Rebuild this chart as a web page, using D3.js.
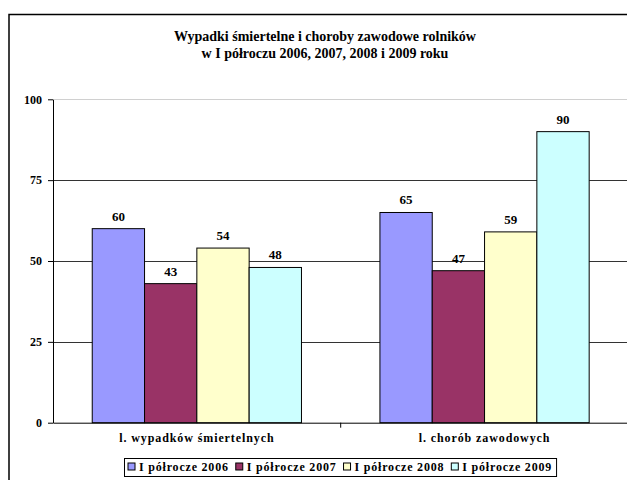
<!doctype html>
<html>
<head>
<meta charset="utf-8">
<style>
  body { margin: 0; background: #fff; }
  svg { display: block; font-family: "Liberation Serif", "Times New Roman", serif; font-weight: bold; }
</style>
<script src="https://d3js.org/d3.v7.min.js"></script>
</head>
<body>
<svg width="627" height="480"></svg>
<script>
// chart data
var categories = ["l. wypadków śmiertelnych", "l. chorób zawodowych"];
var seriesNames = ["I półrocze 2006", "I półrocze 2007", "I półrocze 2008", "I półrocze 2009"];
var values2006 = [60, 65];
var values2007 = [43, 47];
var values2008 = [54, 59];
var values2009 = [48, 90];
var yTicks = [0, 25, 50, 75, 100];
var colors = ["#9999ff", "#993366", "#ffffcc", "#ccffff"];

var allValues = [values2006, values2007, values2008, values2009];

var svg = d3.select("svg");

// outer chart frame (runs off the right and bottom edge)
svg.append("rect")
    .attr("x", 9).attr("y", 14.5)
    .attr("width", 700).attr("height", 600)
    .attr("fill", "none").attr("stroke", "#000").attr("stroke-width", 1.5);

// title
var title = svg.append("text")
    .attr("text-anchor", "middle")
    .attr("font-size", 14);
title.append("tspan").attr("x", 325).attr("y", 41).text("Wypadki śmiertelne i choroby zawodowe rolników");
title.append("tspan").attr("x", 325).attr("y", 58).text("w I półroczu 2006, 2007, 2008 i 2009 roku");

var plotLeft = 53, plotRight = 628.4, plotTop = 99.3, plotBottom = 422.7;

var x0 = d3.scaleBand().domain(categories).range([plotLeft, plotRight]).padding(0);
var x1 = d3.scaleBand().domain(seriesNames).range([0, x0.bandwidth()])
    .paddingInner(0).paddingOuter(0.75);
var y = d3.scaleLinear().domain([0, 100]).range([plotBottom, plotTop]);

// gridlines
svg.append("g").selectAll("line")
    .data(yTicks.filter(function(d) { return d > 0; }))
    .enter().append("line")
    .attr("x1", plotLeft).attr("x2", plotRight)
    .attr("y1", function(d) { return Math.round(y(d)) + 0.5; })
    .attr("y2", function(d) { return Math.round(y(d)) + 0.5; })
    .attr("stroke", function(d) { return d === 100 ? "#d0d0d0" : "#333"; })
    .attr("stroke-width", 1);

// bars
var rows = [];
categories.forEach(function(c, i) {
    seriesNames.forEach(function(s, j) {
        rows.push({ cat: c, ser: s, value: allValues[j][i], color: colors[j] });
    });
});

var bars = svg.append("g");
bars.selectAll("rect")
    .data(rows)
    .enter().append("rect")
    .attr("x", function(d) { return x0(d.cat) + x1(d.ser); })
    .attr("y", function(d) { return y(d.value); })
    .attr("width", x1.bandwidth())
    .attr("height", function(d) { return plotBottom - y(d.value); })
    .attr("fill", function(d) { return d.color; })
    .attr("stroke", "#000").attr("stroke-width", 1);

bars.selectAll("text")
    .data(rows)
    .enter().append("text")
    .attr("x", function(d) { return x0(d.cat) + x1(d.ser) + x1.bandwidth() / 2; })
    .attr("y", function(d) { return y(d.value) - 8; })
    .attr("text-anchor", "middle")
    .attr("font-size", 13)
    .text(function(d) { return d.value; });

// y axis
var yAxis = svg.append("g")
    .attr("transform", "translate(" + plotLeft + ",0)")
    .call(d3.axisLeft(y).tickValues(yTicks).tickSize(5).tickPadding(6).tickSizeOuter(0))
    .attr("font-family", null).attr("font-size", 12);
yAxis.select(".domain").attr("stroke", "#000");
yAxis.selectAll("line").attr("stroke", "#000");
yAxis.selectAll("text").attr("fill", "#000");

// x axis
var xAxis = svg.append("g")
    .attr("transform", "translate(0," + plotBottom + ")")
    .call(d3.axisBottom(x0).tickSize(0).tickPadding(11).tickSizeOuter(0))
    .attr("font-family", null).attr("font-size", 12);
xAxis.select(".domain").attr("stroke", "#000");
xAxis.selectAll("text").attr("fill", "#000").attr("letter-spacing", 0.9);
// category separator ticks
svg.append("g").selectAll("line")
    .data(categories.slice(1))
    .enter().append("line")
    .attr("x1", function(d) { return x0(d); }).attr("x2", function(d) { return x0(d); })
    .attr("y1", plotBottom).attr("y2", plotBottom + 5)
    .attr("stroke", "#000");

// legend
var legend = svg.append("g");
var lx = 128, ly = 467;
var items = legend.selectAll("g")
    .data(seriesNames)
    .enter().append("g");
items.each(function(d, i) {
    var g = d3.select(this);
    g.append("rect")
        .attr("x", lx).attr("y", ly - 4)
        .attr("width", 7).attr("height", 7)
        .attr("fill", colors[i]).attr("stroke", "#000").attr("stroke-width", 1);
    var t = g.append("text")
        .attr("x", lx + 11).attr("y", ly + 4)
        .attr("font-size", 12).attr("letter-spacing", 0.8)
        .text(d);
    lx += 11 + t.node().getComputedTextLength() + 7;
});
legend.insert("rect", ":first-child")
    .attr("x", 124.5).attr("y", 458.5)
    .attr("width", lx - 124 - 3).attr("height", 18)
    .attr("fill", "#fff").attr("stroke", "#000").attr("stroke-width", 1);
</script>
</body>
</html>
